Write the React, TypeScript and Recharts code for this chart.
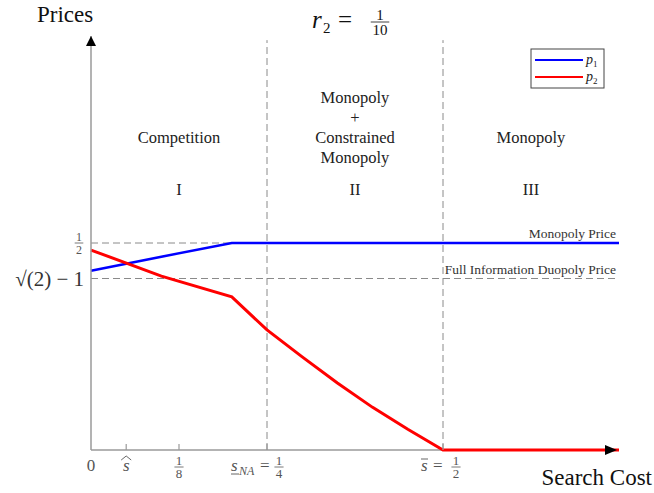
import React from 'react';
import { LineChart, Line, XAxis, YAxis, ReferenceLine, ReferenceDot, Customized } from 'recharts';

const searchCost = [0, 0.1, 0.2, 0.25, 0.3, 0.35, 0.4, 0.45, 0.5, 0.75];
const p1Values = [0.433, 0.467, 0.5, 0.5, 0.5, 0.5, 0.5, 0.5, 0.5, 0.5];
const p2Values = [0.483, 0.42, 0.37, 0.29, 0.225, 0.162, 0.103, 0.05, 0, 0];
const xTicks = [0, 0.05, 0.125, 0.25, 0.5];
const yTicks = [Math.SQRT2 - 1, 0.5];
const regionBounds = [0.25, 0.5];
const monopolyPrice = 0.5;
const duopolyPrice = Math.SQRT2 - 1;
const regionCenters = [0.125, 0.375, 0.625];
const regionNameY = [0.754, 0.85, 0.754];
const regionNumeralY = 0.628;
const regionNames = [['Competition'], ['Monopoly', '+', 'Constrained', 'Monopoly'], ['Monopoly']];
const regionNumerals = ['I', 'II', 'III'];

const data = searchCost.map((s, i) => ({ s, p1: p1Values[i], p2: p2Values[i] }));

const FONT = "'Liberation Serif', 'DejaVu Serif', serif";
const TICK_COLOR = '#555';
const AXIS_COLOR = '#9a9a9a';
const DASH_COLOR = '#8a8a8a';

const Frac = ({ x, y, num, den, size = 13, color = TICK_COLOR }: any) => {
  const w = size * 0.55 * Math.max(String(num).length, String(den).length) + 2;
  return (
    <g>
      <text x={x} y={y - 2.5} textAnchor="middle" fontSize={size} fill={color} fontFamily={FONT}>{num}</text>
      <line x1={x - w / 2} x2={x + w / 2} y1={y} y2={y} stroke={color} strokeWidth={0.8} />
      <text x={x} y={y + size * 0.75 + 1.5} textAnchor="middle" fontSize={size} fill={color} fontFamily={FONT}>{den}</text>
    </g>
  );
};

const XTick = (props: any) => {
  const { x, y, payload } = props;
  const v = payload.value;
  const base = y + 21;
  let label: any = null;
  if (v === 0) {
    label = <text x={x} y={base} textAnchor="middle" fontSize={17} fill={TICK_COLOR} fontFamily={FONT}>0</text>;
  } else if (v === 0.05) {
    label = (
      <g>
        <text x={x} y={base} textAnchor="middle" fontSize={17} fontStyle="italic" fill={TICK_COLOR} fontFamily={FONT}>s</text>
        <path d={`M${x - 5},${base - 11} L${x},${base - 15} L${x + 5},${base - 11}`} stroke={TICK_COLOR} fill="none" strokeWidth={0.9} />
      </g>
    );
  } else if (v === 0.125) {
    label = <Frac x={x} y={y + 17} num="1" den="8" />;
  } else if (v === 0.25) {
    label = (
      <g>
        <text x={x - 36} y={base} fontSize={17} fontStyle="italic" fill={TICK_COLOR} fontFamily={FONT}>s</text>
        <line x1={x - 36} x2={x - 28} y1={base + 3} y2={base + 3} stroke={TICK_COLOR} strokeWidth={0.9} />
        <text x={x - 28} y={base + 4} fontSize={12} fontStyle="italic" fill={TICK_COLOR} fontFamily={FONT}>NA</text>
        <text x={x - 7} y={base} fontSize={17} fill={TICK_COLOR} fontFamily={FONT}>=</text>
        <Frac x={x + 12} y={y + 17} num="1" den="4" />
      </g>
    );
  } else if (v === 0.5) {
    label = (
      <g>
        <text x={x - 22} y={base} fontSize={17} fontStyle="italic" fill={TICK_COLOR} fontFamily={FONT}>s</text>
        <line x1={x - 22} x2={x - 15} y1={base - 12} y2={base - 12} stroke={TICK_COLOR} strokeWidth={0.9} />
        <text x={x - 10} y={base} fontSize={17} fill={TICK_COLOR} fontFamily={FONT}>=</text>
        <Frac x={x + 13} y={y + 17} num="1" den="2" />
      </g>
    );
  }
  return (
    <g>
      {v > 0 && <line x1={x} x2={x} y1={y} y2={y - 6} stroke={AXIS_COLOR} strokeWidth={1.2} />}
      {label}
    </g>
  );
};

const YTick = (props: any) => {
  const { x, y, payload } = props;
  const v = payload.value;
  if (v === 0.5) {
    return <Frac x={x - 12} y={y} num="1" den="2" size={12} />;
  }
  return (
    <text x={x - 7} y={y + 7} textAnchor="end" fontSize={21} fill="#333" fontFamily={FONT}>√(2) − 1</text>
  );
};

const RegionLabel = (lines: string[]) => (props: any) => {
  const { cx, cy } = props;
  return (
    <g>
      {lines.map((t, i) => (
        <text key={i} x={cx} y={cy + i * 20 + 5} textAnchor="middle" fontSize={16.5} fill="#222" fontFamily={FONT}>{t}</text>
      ))}
    </g>
  );
};

const UpArrow = (props: any) => {
  const { cx, cy } = props;
  return <path d={`M${cx},${cy} L${cx - 5},${cy + 10} L${cx + 5},${cy + 10} Z`} fill="#000" />;
};
const RightArrow = (props: any) => {
  const { cx, cy } = props;
  return <path d={`M${cx - 2},${cy} L${cx - 14},${cy - 5} L${cx - 14},${cy + 5} Z`} fill="#000" />;
};

const Decorations = () => (
  <g fontFamily={FONT}>
    <text x={37} y={22} fontSize={23} fill="#111">Prices</text>
    <text x={652} y={485} fontSize={23} textAnchor="end" fill="#111">Search Cost</text>
    <text x={312} y={28} fontSize={25} fontStyle="italic" fill="#111">r</text>
    <text x={323} y={33} fontSize={15} fill="#111">2</text>
    <text x={338} y={28} fontSize={25} fill="#111">=</text>
    <Frac x={380} y={22} num="1" den="10" size={15} color="#111" />
    <rect x={531} y={49} width={73} height={39} fill="#fff" stroke="#444" strokeWidth={1} />
    <line x1={535} x2={583} y1={60} y2={60} stroke="#0000ff" strokeWidth={2.2} />
    <line x1={535} x2={583} y1={77} y2={77} stroke="#ff0000" strokeWidth={2.2} />
    <text x={586} y={64} fontSize={14} fontStyle="italic" fill="#222">p</text>
    <text x={593} y={67} fontSize={9} fill="#222">1</text>
    <text x={586} y={81} fontSize={14} fontStyle="italic" fill="#222">p</text>
    <text x={593} y={84} fontSize={9} fill="#222">2</text>
  </g>
);

const RefText = (text: string) => (props: any) => {
  const { viewBox } = props;
  return (
    <text x={viewBox.x + viewBox.width - 3} y={viewBox.y - 5} textAnchor="end" fontSize={13.5} fill="#333" fontFamily={FONT}>{text}</text>
  );
};

export default function App() {
  return (
    <div style={{ position: 'absolute', left: 0, top: 0, background: '#fff' }}>
      <LineChart width={654} height={493} data={data} margin={{ top: 36, right: 35, bottom: 0, left: 0 }}>
        <XAxis
          dataKey="s"
          type="number"
          domain={[0, 0.75]}
          ticks={xTicks}
          tick={<XTick />}
          tickLine={false}
          tickSize={0}
          tickMargin={0}
          height={43}
          axisLine={false}
          interval={0}
        />
        <YAxis
          type="number"
          domain={[0, 1]}
          ticks={yTicks}
          tick={<YTick />}
          tickLine={false}
          tickSize={0}
          tickMargin={0}
          width={91}
          axisLine={{ stroke: AXIS_COLOR, strokeWidth: 1.5 }}
          interval={0}
        />
        <ReferenceLine y={0} stroke={AXIS_COLOR} strokeWidth={1.5} />
        <ReferenceLine y={monopolyPrice} stroke={DASH_COLOR} strokeDasharray="7 4" label={RefText('Monopoly Price')} />
        <ReferenceLine y={duopolyPrice} stroke={DASH_COLOR} strokeDasharray="7 4" label={RefText('Full Information Duopoly Price')} />
        {regionBounds.map((b) => (
          <ReferenceLine key={b} segment={[{ x: b, y: 0 }, { x: b, y: 0.99 }]} stroke={DASH_COLOR} strokeDasharray="7 4" />
        ))}
        {regionCenters.map((c, i) => (
          <ReferenceDot key={'n' + i} x={c} y={regionNameY[i]} r={0} shape={RegionLabel(regionNames[i])} ifOverflow="visible" />
        ))}
        {regionCenters.map((c, i) => (
          <ReferenceDot key={'r' + i} x={c} y={regionNumeralY} r={0} shape={RegionLabel([regionNumerals[i]])} ifOverflow="visible" />
        ))}
        <Line type="linear" dataKey="p1" stroke="#0000ff" strokeWidth={2.5} dot={false} isAnimationActive={false} />
        <Line type="linear" dataKey="p2" stroke="#ff0000" strokeWidth={3} dot={false} isAnimationActive={false} />
        <ReferenceDot x={0} y={1} r={0} shape={UpArrow} ifOverflow="visible" />
        <ReferenceDot x={0.75} y={0} r={0} shape={RightArrow} ifOverflow="visible" />
        <Customized component={Decorations} />
      </LineChart>
    </div>
  );
}
